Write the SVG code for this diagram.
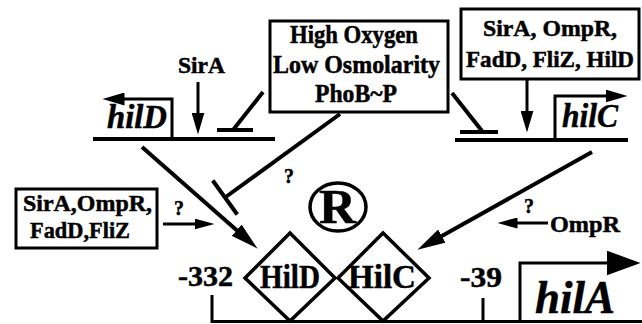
<svg xmlns="http://www.w3.org/2000/svg" width="642" height="324" viewBox="0 0 642 324">
<style>
.t{font-family:"Liberation Serif","Times New Roman",serif;font-weight:bold;fill:#000;stroke:#000;stroke-width:0.5}
.i{font-style:italic}
.ln{stroke:#000;fill:none;stroke-width:4}
.th{stroke:#000;fill:none;stroke-width:3}
.box{stroke:#000;fill:#fff;stroke-width:3}
.dm{stroke:#000;fill:#fff;stroke-width:3.5}
</style>
<defs>
<marker id="ah" markerUnits="userSpaceOnUse" markerWidth="23" markerHeight="13" refX="0.5" refY="6.5" orient="auto" viewBox="0 0 23 13"><path d="M0,0 L22,6.5 L0,13 z" fill="#000"/></marker>
<marker id="ahs" markerUnits="userSpaceOnUse" markerWidth="21" markerHeight="11" refX="0.5" refY="5.5" orient="auto" viewBox="0 0 21 11"><path d="M0,0 L20,5.5 L0,11 z" fill="#000"/></marker>
<marker id="ahd" markerUnits="userSpaceOnUse" markerWidth="29" markerHeight="15" refX="0.5" refY="7.5" orient="auto" viewBox="0 0 29 15"><path d="M0,0 L28,7.5 L0,15 z" fill="#000"/></marker>
<marker id="ahb" markerUnits="userSpaceOnUse" markerWidth="35" markerHeight="25" refX="0.5" refY="12.5" orient="auto" viewBox="0 0 35 25"><path d="M0,0 L34,12.5 L0,25 z" fill="#000"/></marker>
</defs>

<g id="hilD-gene">
<line class="ln" x1="93" y1="139" x2="275" y2="139"/>
<path class="th" d="M172,139 V99 H124" marker-end="url(#ah)"/>
<text class="t i" x="107" y="128" font-size="33" textLength="60" lengthAdjust="spacingAndGlyphs">hilD</text>
</g>

<g id="hilC-gene">
<line class="ln" x1="455" y1="140" x2="628" y2="140"/>
<path class="th" d="M555,140 V96 H606" marker-end="url(#ah)"/>
<text class="t i" x="562" y="127" font-size="33" textLength="56" lengthAdjust="spacingAndGlyphs">hilC</text>
</g>

<g id="sirA-label">
<text class="t" x="178" y="73" font-size="24" textLength="47" lengthAdjust="spacingAndGlyphs">SirA</text>
</g>

<g id="env-box">
<rect class="box" x="270" y="21" width="178" height="91"/>
<text class="t" x="290" y="43" font-size="25" textLength="128" lengthAdjust="spacingAndGlyphs">High Oxygen</text>
<text class="t" x="273" y="73" font-size="25" textLength="167" lengthAdjust="spacingAndGlyphs">Low Osmolarity</text>
<text class="t" x="315" y="102" font-size="25" textLength="82" lengthAdjust="spacingAndGlyphs">PhoB~P</text>
</g>

<g id="hilC-regulators">
<rect class="box" x="461" y="9" width="178" height="70"/>
<text class="t" x="483" y="36" font-size="24" textLength="134" lengthAdjust="spacingAndGlyphs">SirA, OmpR,</text>
<text class="t" x="466" y="67" font-size="24" textLength="168" lengthAdjust="spacingAndGlyphs">FadD, FliZ, HilD</text>
</g>

<g id="hilA-regulators">
<rect class="box" x="16" y="189" width="141" height="59"/>
<text class="t" x="23" y="211" font-size="24" textLength="129" lengthAdjust="spacingAndGlyphs">SirA,OmpR,</text>
<text class="t" x="30" y="238" font-size="24" textLength="100" lengthAdjust="spacingAndGlyphs">FadD,FliZ</text>
</g>

<g id="ompR-label">
<text class="t" x="550" y="232" font-size="23" textLength="70" lengthAdjust="spacingAndGlyphs">OmpR</text>
</g>

<g id="R-symbol">
<ellipse class="dm" cx="338" cy="207" rx="28" ry="24" fill="none"/>
<text class="t" x="319" y="223" font-size="48" textLength="37" lengthAdjust="spacingAndGlyphs">R</text>
</g>

<g id="HilD-site">
<polygon class="dm" points="245,278 290,233 335,278 290,321"/>
<text class="t" x="260" y="288" font-size="34" textLength="60" lengthAdjust="spacingAndGlyphs">HilD</text>
</g>

<g id="HilC-site">
<polygon class="dm" points="338,278 383,233 429,278 383,321"/>
<text class="t" x="348" y="288" font-size="34" textLength="68" lengthAdjust="spacingAndGlyphs">HilC</text>
</g>

<g id="hilA-promoter">
<path class="th" d="M212,295 V321.5 H642"/>
<line class="th" x1="483" y1="298" x2="483" y2="322"/>
<path class="th" d="M520,322 V263 H607" marker-end="url(#ahb)"/>
<text class="t" x="178" y="286" font-size="30" textLength="55" lengthAdjust="spacingAndGlyphs">-332</text>
<text class="t" x="460" y="287" font-size="30" textLength="42" lengthAdjust="spacingAndGlyphs">-39</text>
<text class="t i" x="535" y="313" font-size="47" textLength="80" lengthAdjust="spacingAndGlyphs">hilA</text>
</g>

<g id="connectors">
<line class="th" x1="198" y1="82" x2="198" y2="113" marker-end="url(#ah)"/>
<line class="th" x1="527" y1="79" x2="527" y2="111" marker-end="url(#ah)"/>
<line class="ln" x1="142" y1="147" x2="237" y2="230.5" marker-end="url(#ahd)"/>
<line class="ln" x1="592" y1="152" x2="441.4" y2="236.3" marker-end="url(#ahd)"/>
<line class="th" x1="163" y1="224" x2="195" y2="224" marker-end="url(#ahs)"/>
<line class="th" x1="548" y1="223" x2="517" y2="223" marker-end="url(#ahs)"/>
<line class="ln" x1="263" y1="92" x2="233" y2="130"/>
<line class="ln" x1="217" y1="130" x2="253" y2="130"/>
<line class="ln" x1="452" y1="93" x2="482" y2="131"/>
<line class="ln" x1="460" y1="132" x2="498" y2="132"/>
<line class="ln" x1="340" y1="114" x2="225" y2="197.5"/>
<line class="ln" x1="212.7" y1="180.5" x2="237.3" y2="214.5"/>
<text class="t" x="174" y="215" font-size="22" textLength="10" lengthAdjust="spacingAndGlyphs">?</text>
<text class="t" x="284" y="183" font-size="22" textLength="10" lengthAdjust="spacingAndGlyphs">?</text>
<text class="t" x="524" y="213" font-size="22" textLength="10" lengthAdjust="spacingAndGlyphs">?</text>
</g>
</svg>
